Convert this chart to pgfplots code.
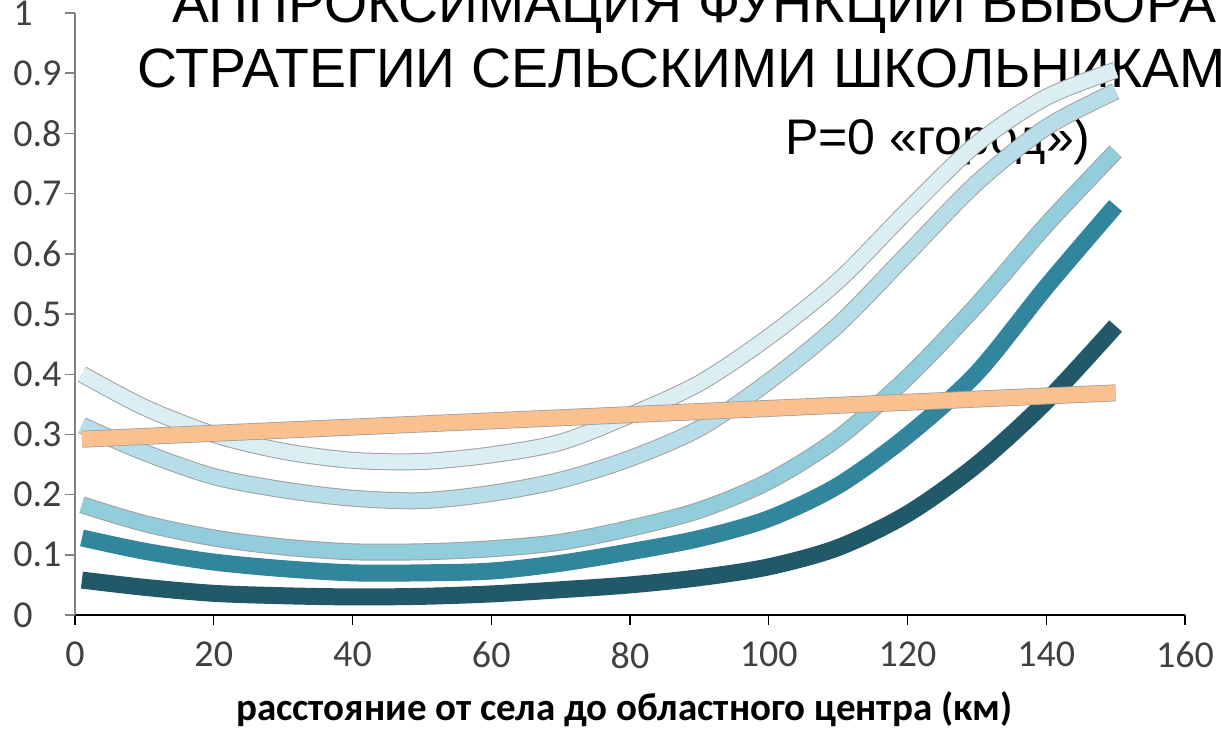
\documentclass[border=0pt]{standalone}
\usepackage{pgfplots}
\pgfplotsset{compat=1.18}
\usepackage{pgfplotstable}
\usepackage{fontspec}
\setmainfont{Carlito}
\newfontfamily\titlefont{Liberation Sans}

\definecolor{cA}{HTML}{DAEEF3}
\definecolor{cB}{HTML}{B7DEE8}
\definecolor{cC}{HTML}{92CDDC}
\definecolor{cD}{HTML}{31859C}
\definecolor{cE}{HTML}{215968}
\definecolor{cO}{HTML}{FAC090}
\definecolor{edge}{HTML}{A0A0A0}
\definecolor{ticktext}{HTML}{404040}

% curves, km vs. share
\pgfplotstableread{
x    a      b      c      d      e
1    0.400  0.315  0.183  0.128  0.058
10   0.345  0.270  0.152  0.106  0.046
20   0.300  0.230  0.128  0.088  0.036
30   0.272  0.208  0.113  0.077  0.032
40   0.257  0.194  0.105  0.070  0.030
50   0.255  0.190  0.105  0.070  0.031
60   0.266  0.202  0.110  0.073  0.035
70   0.287  0.224  0.121  0.086  0.042
80   0.332  0.260  0.144  0.105  0.050
90   0.385  0.310  0.174  0.127  0.062
100  0.462  0.388  0.222  0.160  0.080
110  0.555  0.482  0.294  0.215  0.112
120  0.672  0.600  0.395  0.298  0.168
130  0.783  0.718  0.515  0.402  0.250
140  0.860  0.810  0.648  0.545  0.355
150  0.905  0.870  0.770  0.680  0.480
}\curves

\pgfplotstableread{
x    o
1    0.292
150  0.369
}\orange

\begin{document}
\begin{tikzpicture}
\useasboundingbox (-37.5pt,-60pt) rectangle (573pt,307.5pt);
\clip (-37.5pt,-60pt) rectangle (573pt,307.5pt);

\node[anchor=base west, inner sep=0pt, font=\titlefont\fontsize{27.7}{30}\selectfont] at (48.5pt,296pt) {АППРОКСИМАЦИЯ ФУНКЦИИ ВЫБОРА};
\node[anchor=base west, inner sep=0pt, font=\titlefont\fontsize{27.7}{30}\selectfont] at (31pt,263.5pt) {СТРАТЕГИИ СЕЛЬСКИМИ ШКОЛЬНИКАМ};
\node[anchor=base west, inner sep=0pt, font=\titlefont\fontsize{25}{28}\selectfont] at (355pt,230pt) {P=0 «город»)};

\begin{axis}[
    scale only axis,
    width=555pt, height=301pt,
    xmin=0, xmax=160, ymin=0, ymax=1,
    axis lines*=left,
    axis line style={-},
    x axis line style={black, line width=0.7pt},
    y axis line style={draw=gray, line width=1.4pt},
    tick align=outside,
    major tick length=5pt,
    xtick={0,20,...,160},
    ytick={0,0.1,...,1},
    xtick style={black, line width=0.6pt},
    ytick style={gray, line width=0.7pt},
    /pgf/number format/assume math mode=true,
    ticklabel style={font=\fontsize{19}{21}\selectfont, text=ticktext},
    xticklabel style={yshift=-5pt},
    yticklabel style={anchor=west, inner sep=0pt, xshift=-26pt},
    xlabel={\textbf{расстояние от села до областного центра (км)}},
    x label style={at={(axis description cs:0.495,0)}, anchor=base, yshift=-52.5pt,
        font=\fontsize{19.5}{22}\selectfont},
]
\addplot[cE, line width=8.5pt, smooth] table[x=x, y=e] {\curves};
\addplot[cD, line width=8.5pt, smooth] table[x=x, y=d] {\curves};
\addplot[edge, line width=8.5pt, smooth] table[x=x, y=c] {\curves};
\addplot[cC, line width=7.5pt, smooth] table[x=x, y=c] {\curves};
\addplot[edge, line width=8.5pt, smooth] table[x=x, y=b] {\curves};
\addplot[cB, line width=7.5pt, smooth] table[x=x, y=b] {\curves};
\addplot[edge, line width=8.5pt, smooth] table[x=x, y=a] {\curves};
\addplot[cA, line width=7.5pt, smooth] table[x=x, y=a] {\curves};
\addplot[edge, line width=8.5pt] table[x=x, y=o] {\orange};
\addplot[cO, line width=7.7pt] table[x=x, y=o] {\orange};
\end{axis}
\end{tikzpicture}
\end{document}
